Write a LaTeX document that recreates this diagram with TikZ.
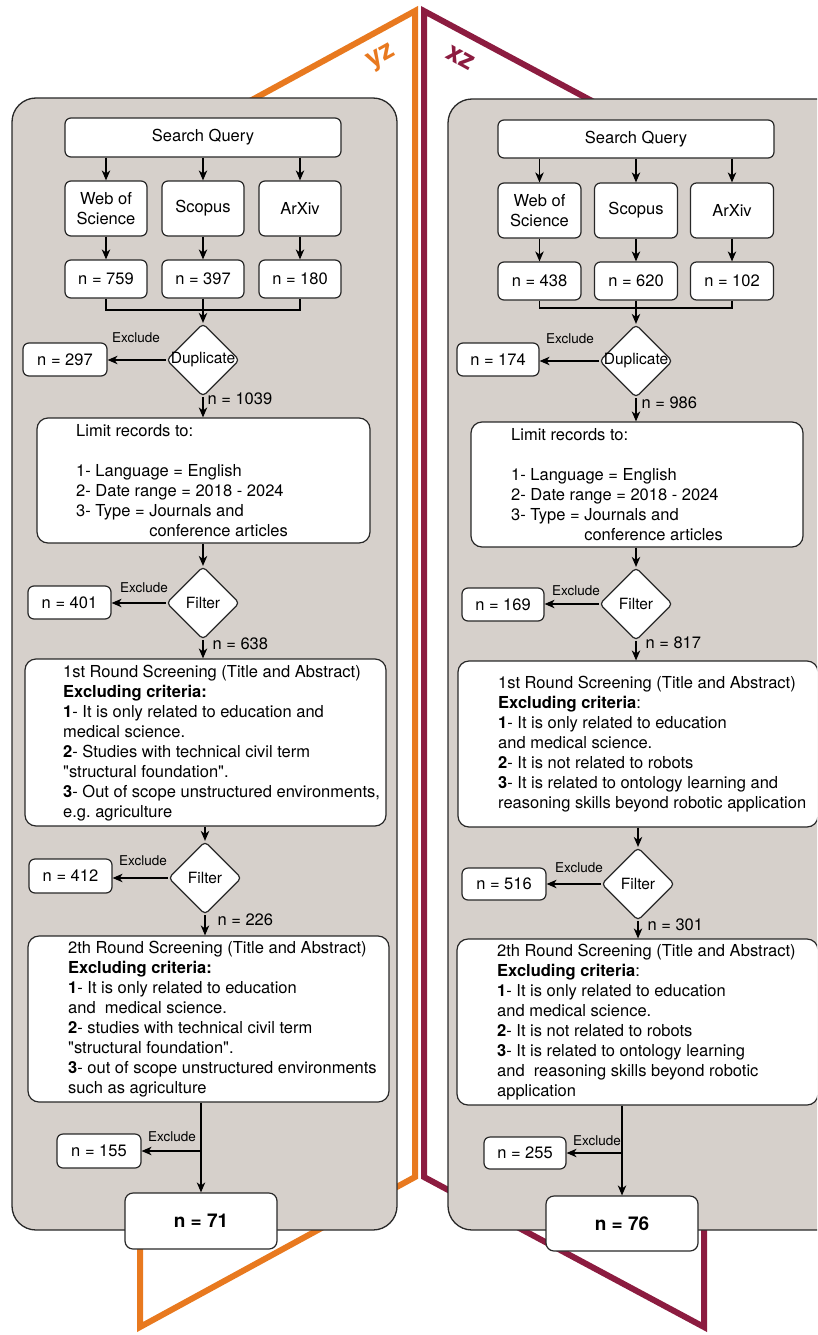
\documentclass[tikz,border=0pt]{standalone}
\usepackage{fontspec}
\setmainfont{TeX Gyre Heros}
\usetikzlibrary{shapes.geometric,arrows.meta,calc}

\definecolor{panelfill}{RGB}{214,208,203}
\definecolor{planeorange}{RGB}{232,121,31}
\definecolor{planemaroon}{RGB}{140,28,64}
\definecolor{edgegray}{RGB}{40,40,40}

\tikzset{
  box/.style={draw=edgegray, line width=1.2pt, fill=white, rounded corners=6pt, inner sep=0pt, align=center, font=\fontsize{16.5}{20}\selectfont},
  bigbox/.style={box, rounded corners=11pt},
  finbox/.style={box, rounded corners=8pt, font=\bfseries\fontsize{19}{22}\selectfont},
  panel/.style={draw=edgegray, line width=1.3pt, fill=panelfill, rounded corners=24pt},
  dec/.style={diamond, draw=edgegray, line width=1.2pt, fill=white, rounded corners=4pt, minimum width=73pt, minimum height=73pt, inner sep=0pt, font=\fontsize{15.5}{18}\selectfont},
  arr/.style={-{Stealth[length=10pt,width=8.5pt,inset=3pt]}, line width=1.1pt, black},
  plain/.style={line width=1.1pt, black},
  exlabel/.style={font=\fontsize{13.5}{16}\selectfont, inner sep=0pt},
  nlabel/.style={font=\fontsize{16.5}{20}\selectfont, anchor=west, inner sep=0pt},
  boxtext/.style={font=\fontsize{16.5}{20}\selectfont, align=left, anchor=west, inner sep=0pt},
  plane/.style={line width=6pt, line join=miter, miter limit=10},
  planelabel/.style={font=\bfseries\fontsize{27}{27}\selectfont, inner sep=0pt},
}
\newcommand{\qq}{\textquotedbl}

\begin{document}
\begin{tikzpicture}[x=1pt, y=-1pt]
\useasboundingbox (0,0) rectangle (817,1335);
\clip (0,0) rectangle (817,1335);

% planes
\draw[plane, planeorange] (415,11) -- (415,1177) -- (140,1327) -- (140,161) -- cycle;
\draw[plane, planemaroon] (424,11) -- (424,1177) -- (704,1327) -- (704,161) -- cycle;
\node[planelabel, rotate=29, text=planeorange] (yz) at (382,58) {yz};
\node[planelabel, rotate=-29, text=planemaroon] (xz) at (460,58) {xz};

% panels
\path[panel] (12,98) rectangle (397,1230);
\path[panel] (448,99) rectangle (850,1230);

% ================= LEFT =================
\node[box, minimum width=276pt, minimum height=39pt] (lsq) at (203,137.5) {Search Query};
\node[box, minimum width=82pt, minimum height=55pt] (lwos) at (106,208.5) {Web of\\Science};
\node[box, minimum width=82pt, minimum height=55pt] (lsco) at (203,208.5) {Scopus};
\node[box, minimum width=82pt, minimum height=55pt] (larx) at (300,208.5) {ArXiv};
\node[box, minimum width=82pt, minimum height=38pt] (ln1) at (106,279) {n = 759};
\node[box, minimum width=82pt, minimum height=38pt] (ln2) at (203,279) {n = 397};
\node[box, minimum width=82pt, minimum height=38pt] (ln3) at (300,279) {n = 180};
\coordinate (lmerge) at (203,310);
\node[dec] (ldup) at (203,360) {\makebox[0pt]{Duplicate}};
\node[box, minimum width=84pt, minimum height=33pt] (lx1) at (65,359.5) {n = 297};
\node[bigbox, minimum width=333pt, minimum height=125pt] (llim) at (203.5,480.5) {};
\node[boxtext] (llimt) at (76,480.5) {Limit records to:\\[20pt]
1- Language = English\\
2- Date range = 2018 - 2024\\
3- Type = Journals and\\
\hphantom{3- Type = }conference articles};
\node[dec] (lf1) at (203,603) {\makebox[0pt]{Filter}};
\node[box, minimum width=83pt, minimum height=33pt] (lx2) at (69.5,602.5) {n = 401};
\node[bigbox, minimum width=361pt, minimum height=167pt] (lr1) at (205.5,742.5) {};
\node[boxtext] (lr1t) at (63,743.5) {1st Round Screening (Title and Abstract)\\
\textbf{Excluding criteria:}\\
\textbf{1}- It is only related to education and\\
medical science.\\
\textbf{2}- Studies with technical civil term\\
\qq structural foundation\qq.\\
\textbf{3}- Out of scope unstructured environments,\\
e.g.\ agriculture};
\node[dec] (lf2) at (205,878) {\makebox[0pt]{Filter}};
\node[box, minimum width=83pt, minimum height=34pt] (lx3) at (70.5,876) {n = 412};
\node[bigbox, minimum width=361pt, minimum height=166pt] (lr2) at (208.5,1019) {};
\node[boxtext] (lr2t) at (68,1019.5) {2th Round Screening (Title and Abstract)\\
\textbf{Excluding criteria:}\\
\textbf{1}- It is only related to education\\
and\ \ medical science.\\
\textbf{2}- studies with technical civil term\\
\qq structural foundation\qq.\\
\textbf{3}- out of scope unstructured environments\\
such as agriculture};
\node[box, minimum width=84pt, minimum height=34pt] (lx4) at (99,1151) {n = 155};
\node[finbox, minimum width=152pt, minimum height=56pt] (lfin) at (201,1221) {n = 71};
\coordinate (lb) at (lfin|-lx4);

\node[exlabel] (lex1) at (136,338) {Exclude};
\node[exlabel] (lex2) at (144,588) {Exclude};
\node[exlabel] (lex3) at (143,861) {Exclude};
\node[exlabel] (lex4) at (172,1137) {Exclude};

\draw[arr] (lwos|-lsq.south) -- (lwos.north);
\draw[arr] (lsco|-lsq.south) -- (lsco.north);
\draw[arr] (larx|-lsq.south) -- (larx.north);
\draw[arr] (ln1|-lwos.south) -- (ln1.north);
\draw[arr] (ln2|-lsco.south) -- (ln2.north);
\draw[arr] (ln3|-larx.south) -- (ln3.north);
\draw[plain] (ln1.south) -- (ln1.south|-lmerge) -- (ln3.south|-lmerge) -- (ln3.south);
\draw[arr] (ln2.south) -- (ldup.north);
\draw[arr] (ldup.west) -- (ldup.west-|lx1.east);
\draw[arr] (ldup.south) -- (ldup.south|-llim.north) node[nlabel, pos=0.1, xshift=4pt] (lc1) {n = 1039};
\draw[arr] (lf1|-llim.south) -- (lf1.north);
\draw[arr] (lf1.west) -- (lf1.west-|lx2.east);
\draw[arr] (lf1.south) -- (lf1.south|-lr1.north) node[nlabel, pos=0.2, xshift=9pt] (lc2) {n = 638};
\draw[arr] (lf2|-lr1.south) -- (lf2.north);
\draw[arr] (lf2.west) -- (lf2.west-|lx3.east);
\draw[arr] (lf2.south) -- (lf2.south|-lr2.north) node[nlabel, pos=0.25, xshift=12pt] (lc3) {n = 226};
\draw[arr] (lfin|-lr2.south) -- (lfin.north);
\draw[arr] (lb) -- (lx4.east);

% ================= RIGHT =================
\node[box, minimum width=276pt, minimum height=38pt] (rsq) at (636,139) {Search Query};
\node[box, minimum width=83pt, minimum height=55pt] (rwos) at (539.5,210.5) {Web of\\Science};
\node[box, minimum width=83pt, minimum height=55pt] (rsco) at (636,210.5) {Scopus};
\node[box, minimum width=83pt, minimum height=55pt] (rarx) at (732,210.5) {ArXiv};
\node[box, minimum width=83pt, minimum height=38pt] (rn1) at (539.5,281) {n = 438};
\node[box, minimum width=83pt, minimum height=38pt] (rn2) at (636,281) {n = 620};
\node[box, minimum width=83pt, minimum height=38pt] (rn3) at (732,281) {n = 102};
\coordinate (rmerge) at (636,308);
\node[dec] (rdup) at (636,361) {\makebox[0pt]{Duplicate}};
\node[box, minimum width=82pt, minimum height=33pt] (rx1) at (498,359.5) {n = 174};
\node[bigbox, minimum width=332pt, minimum height=125pt] (rlim) at (637,484.5) {};
\node[boxtext] (rlimt) at (511,484.5) {Limit records to:\\[20pt]
1- Language = English\\
2- Date range = 2018 - 2024\\
3- Type = Journals and\\
\hphantom{3- Type = }conference articles};
\node[dec] (rf1) at (636,604) {\makebox[0pt]{Filter}};
\node[box, minimum width=82pt, minimum height=33pt] (rx2) at (503,604.5) {n = 169};
\node[bigbox, minimum width=360pt, minimum height=166pt] (rr1) at (638,744) {};
\node[boxtext] (rr1t) at (498,744.5) {1st Round Screening (Title and Abstract)\\
\textbf{Excluding criteria}:\\
\textbf{1}- It is only related to education\\
and medical science.\\
\textbf{2}- It is not related to robots\\
\textbf{3}- It is related to ontology learning and\\
reasoning skills beyond robotic application};
\node[dec] (rf2) at (638,884) {\makebox[0pt]{Filter}};
\node[box, minimum width=84pt, minimum height=32pt] (rx3) at (504,884) {n = 516};
\node[bigbox, minimum width=361pt, minimum height=166pt] (rr2) at (637.5,1022) {};
\node[boxtext] (rr2t) at (497,1022.5) {2th Round Screening (Title and Abstract)\\
\textbf{Excluding criteria}:\\
\textbf{1}- It is only related to education\\
and medical science.\\
\textbf{2}- It is not related to robots\\
\textbf{3}- It is related to ontology learning\\
and\ \ reasoning skills beyond robotic\\
application};
\node[box, minimum width=82pt, minimum height=32pt] (rx4) at (525,1153) {n = 255};
\node[finbox, minimum width=152pt, minimum height=55pt] (rfin) at (622,1223.5) {n = 76};
\coordinate (rb) at (rfin|-rx4);

\node[exlabel] (rex1) at (570,339) {Exclude};
\node[exlabel] (rex2) at (576,591) {Exclude};
\node[exlabel] (rex3) at (579,868) {Exclude};
\node[exlabel] (rex4) at (597,1141) {Exclude};

\draw[arr] (rwos|-rsq.south) -- (rwos.north);
\draw[arr] (rsco|-rsq.south) -- (rsco.north);
\draw[arr] (rarx|-rsq.south) -- (rarx.north);
\draw[arr] (rn1|-rwos.south) -- (rn1.north);
\draw[arr] (rn2|-rsco.south) -- (rn2.north);
\draw[arr] (rn3|-rarx.south) -- (rn3.north);
\draw[plain] (rn1.south) -- (rn1.south|-rmerge) -- (rn3.south|-rmerge) -- (rn3.south);
\draw[arr] (rn2.south) -- (rdup.north);
\draw[arr] (rdup.west) -- (rdup.west-|rx1.east);
\draw[arr] (rdup.south) -- (rdup.south|-rlim.north) node[nlabel, pos=0.2, xshift=5pt] (rc1) {n = 986};
\draw[arr] (rf1|-rlim.south) -- (rf1.north);
\draw[arr] (rf1.west) -- (rf1.west-|rx2.east);
\draw[arr] (rf1.south) -- (rf1.south|-rr1.north) node[nlabel, pos=0.1, xshift=9pt] (rc2) {n = 817};
\draw[arr] (rf2|-rr1.south) -- (rf2.north);
\draw[arr] (rf2.west) -- (rf2.west-|rx3.east);
\draw[arr] (rf2.south) -- (rf2.south|-rr2.north) node[nlabel, pos=0.2, xshift=9pt] (rc3) {n = 301};
\draw[arr] (rfin|-rr2.south) -- (rfin.north);
\draw[arr] (rb) -- (rx4.east);
\end{tikzpicture}
\end{document}
